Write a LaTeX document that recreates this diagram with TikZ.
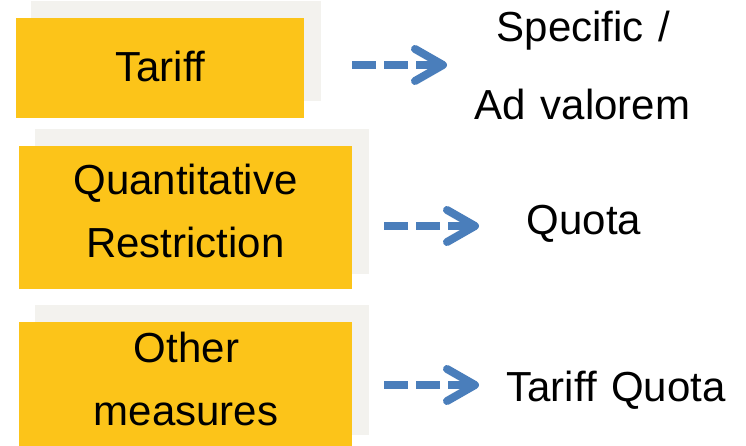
\documentclass[tikz,border=0pt]{standalone}
\usepackage{fontspec}
\setmainfont{Liberation Sans}[WordSpace={1.25}]
\usetikzlibrary{arrows.meta}
\definecolor{boxyellow}{HTML}{FCC419}
\definecolor{shadowgray}{HTML}{F3F2EE}
\definecolor{arrowblue}{HTML}{4A7EBB}
\tikzset{
  shadowbox/.style={fill=shadowgray, draw=none},
  yellowbox/.style={fill=boxyellow, draw=none},
  txt/.style={font=\fontsize{42bp}{50bp}\selectfont, inner sep=0pt, anchor=base, text=black},
  dasharrow/.style={draw=arrowblue, line width=8bp, dash pattern=on 24bp off 8bp,
    -{Straight Barb[length=28bp, width=32bp, round]}},
}
\begin{document}
\begin{tikzpicture}[x=1bp, y=-1bp]
\useasboundingbox (0,0) rectangle (746,446);
\fill[white] (0,0) rectangle (746,446);
% shadows
\fill[shadowbox] (31,1) rectangle (321,101);
\fill[shadowbox] (35,129) rectangle (369,274);
\fill[shadowbox] (35,305) rectangle (369,435);
% yellow boxes
\node[yellowbox, minimum width=288bp, minimum height=100bp, inner sep=0pt] (b1) at (160,68) {};
\node[yellowbox, minimum width=333bp, minimum height=143bp, inner sep=0pt] (b2) at (185.5,217.5) {};
\node[yellowbox, minimum width=333bp, minimum height=124bp, inner sep=0pt] (b3) at (185.5,384) {};
% box texts
\node[txt] (t1) at (160.5,82) {Tariff};
\node[txt] (t2a) at (185.5,195) {Quantitative};
\node[txt] (t2b) at (185.5,258) {Restriction};
\node[txt] (t3a) at (186.5,363) {Other};
\node[txt] (t3b) at (186,425) {measures};
% right texts
\node[txt] (r1a) at (583.5,42) {Specific /};
\node[txt] (r1b) at (582.5,120) {Ad valorem};
\node[txt] (r2) at (584,235) {Quota};
\node[txt] (r3) at (616,401) {Tariff Quota};
% arrow end points
\coordinate (a1s) at (352,65);
\coordinate (a1e) at (447,65);
\coordinate (a2s) at (384,226);
\coordinate (a2e) at (479,226);
\coordinate (a3s) at (384,385);
\coordinate (a3e) at (479,385);
\draw[dasharrow] (a1s) -- (a1e);
\draw[dasharrow] (a2s) -- (a2e);
\draw[dasharrow] (a3s) -- (a3e);
\end{tikzpicture}
\end{document}
